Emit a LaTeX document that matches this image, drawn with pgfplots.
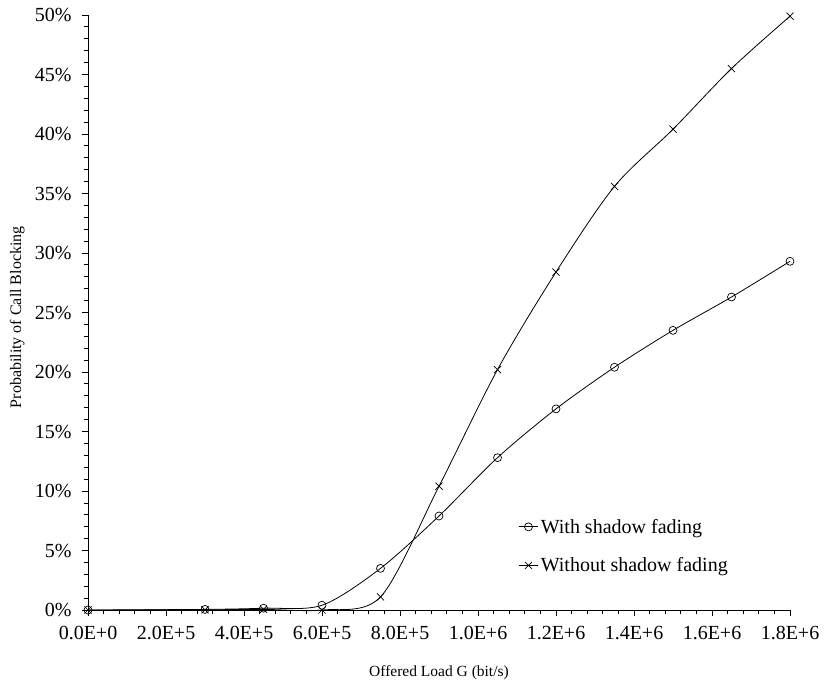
\documentclass[border=0pt]{standalone}
\usepackage{fontspec}
\setmainfont{Liberation Serif}
\usepackage{pgfplots}
\pgfplotsset{compat=1.18}

\begin{document}
\begin{tikzpicture}
\begin{axis}[
    width=702bp, height=595bp,
    scale only axis,
    clip=false,
    xmin=0, xmax=1.8e6,
    ymin=0, ymax=50,
    axis x line*=bottom,
    axis y line*=left,
    axis line style={-, line width=0.8bp},
    xtick align=outside,
    ytick align=outside,
    major tick length=6bp,
    minor tick length=4bp,
    tick style={line width=0.8bp, black},
    xtick={0,2e5,4e5,6e5,8e5,1e6,1.2e6,1.4e6,1.6e6,1.8e6},
    xticklabels={0.0E+0,2.0E+5,4.0E+5,6.0E+5,8.0E+5,1.0E+6,1.2E+6,1.4E+6,1.6E+6,1.8E+6},
    scaled x ticks=false,
    minor x tick num=4,
    ytick={0,5,...,50},
    yticklabels={0\%,5\%,10\%,15\%,20\%,25\%,30\%,35\%,40\%,45\%,50\%},
    minor y tick num=4,
    ticklabel style={font=\fontsize{20bp}{24bp}\selectfont},
    xticklabel style={yshift=-7bp},
    yticklabel style={xshift=-7bp},
    xlabel={Offered Load G (bit/s)},
    ylabel={Probability of Call Blocking},
    label style={font=\fontsize{15.5bp}{18bp}\selectfont},
    xlabel style={at={(axis description cs:0.5,-0.1126)}, anchor=base},
    ylabel style={at={(axis description cs:-0.0954,0.492)}, anchor=base,
        font=\fontsize{16bp}{19bp}\selectfont},
    legend style={draw=none, fill=none, at={(0.6125,0.1565)}, anchor=north west,
        font=\fontsize{20bp}{24bp}\selectfont, row sep=19bp,
        inner sep=0pt},
    legend cell align=left,
    legend image code/.code={
        \draw[mark repeat=2, mark phase=2] plot coordinates {(0cm,0cm) (0.35cm,0cm) (0.7cm,0cm)};
    },
]
\addplot[black, line width=0.8bp, smooth, mark=o, mark size=4bp, mark options={solid, line width=0.7bp}]
coordinates {
    (0, 0)
    (3e5, 0.05)
    (4.5e5, 0.15)
    (6e5, 0.4)
    (7.5e5, 3.5)
    (9e5, 7.9)
    (1.05e6, 12.8)
    (1.2e6, 16.9)
    (1.35e6, 20.4)
    (1.5e6, 23.5)
    (1.65e6, 26.3)
    (1.8e6, 29.3)
};
\addlegendentry{With shadow fading}
\addplot[black, line width=0.8bp, smooth, mark=x, mark size=5bp, mark options={solid, line width=0.7bp}]
coordinates {
    (0, 0)
    (3e5, 0.02)
    (4.5e5, 0.05)
    (6e5, 0)
    (7.5e5, 1.1)
    (9e5, 10.4)
    (1.05e6, 20.2)
    (1.2e6, 28.4)
    (1.35e6, 35.6)
    (1.5e6, 40.4)
    (1.65e6, 45.5)
    (1.8e6, 49.9)
};
\addlegendentry{Without shadow fading}
\end{axis}
\pgfresetboundingbox
\path (current axis.south west) ++(-88bp,-72bp) rectangle ++(824bp,682bp);
\end{tikzpicture}
\end{document}
